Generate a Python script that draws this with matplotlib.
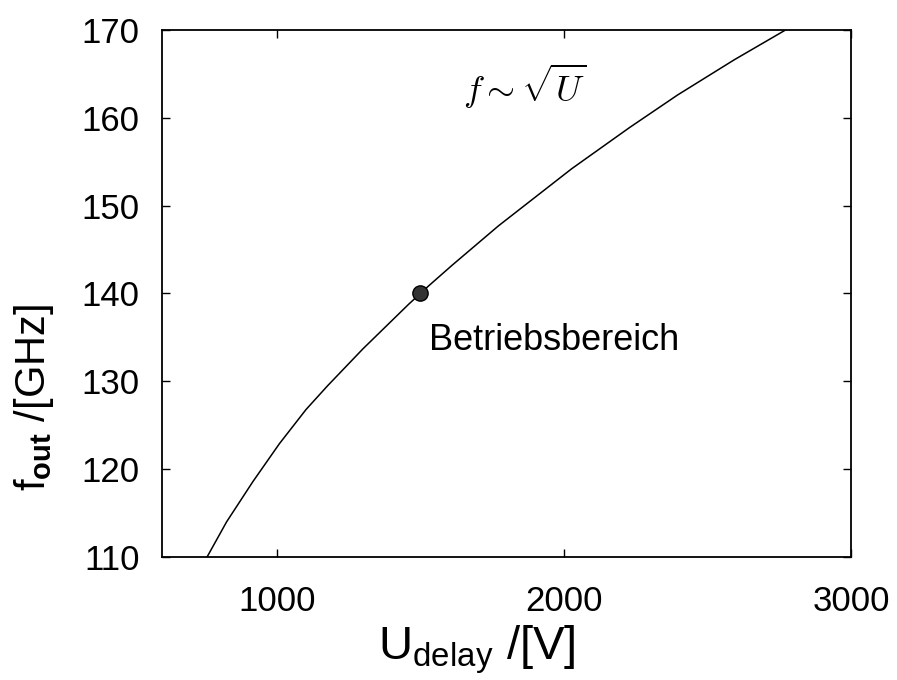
import matplotlib
matplotlib.use("Agg")
import matplotlib.pyplot as plt

# Data
u_delay = [757, 825, 917, 1009, 1102, 1177, 1300, 1460, 1500, 1530, 1610, 1772, 2027, 2229, 2396, 2593, 2772]
f_out = [110.0, 114.0, 118.6, 122.9, 126.8, 129.5, 133.7, 138.8, 140.0, 140.9, 143.2, 147.7, 154.2, 158.9, 162.6, 166.6, 170.0]
op_u = [1500]
op_f = [140]
x_ticks = [1000, 2000, 3000]
y_ticks = [110, 120, 130, 140, 150, 160, 170]

plt.rcParams['font.family'] = ['Liberation Sans', 'DejaVu Sans']
plt.rcParams['mathtext.fontset'] = 'custom'
plt.rcParams['mathtext.rm'] = 'Liberation Sans'
plt.rcParams['mathtext.it'] = 'Liberation Sans'
plt.rcParams['mathtext.bf'] = 'Liberation Sans:bold'

fig = plt.figure(figsize=(8.97, 6.80), dpi=100)
ax = fig.add_axes([0.1806, 0.1809, 0.9487 - 0.1806, 0.9559 - 0.1809])

ax.plot(u_delay, f_out, color='black', lw=1.1)
ax.plot(op_u, op_f, 'o', ms=11, color='#333333', mec='black', mew=1.0)

ax.set_xlim(600, 3000)
ax.set_ylim(110, 170)
ax.set_xticks(x_ticks)
ax.set_yticks(y_ticks)
ax.tick_params(direction='in', top=True, right=True, length=6, width=1.0, labelsize=25)
ax.tick_params(axis='x', pad=20)
ax.tick_params(axis='y', pad=16)
for s in ax.spines.values():
    s.set_linewidth(1.3)

ax.text(1530, 134.7, 'Betriebsbereich', fontsize=26, ha='left', va='center')
ax.text(1650, 163.6, r'$f\sim\sqrt{U}$', fontsize=26, ha='left', va='center',
        math_fontfamily='cm')

fig.text(0.532, 0.045, r'U$_{\mathrm{delay}}$ /[V]', fontsize=34, ha='center', va='center')
fig.text(0.038, 0.415, r'f$_{\mathbf{out}}$ /[GHz]', fontsize=30, ha='center', va='center',
         rotation=90)

fig.savefig('out.png', dpi=100)
